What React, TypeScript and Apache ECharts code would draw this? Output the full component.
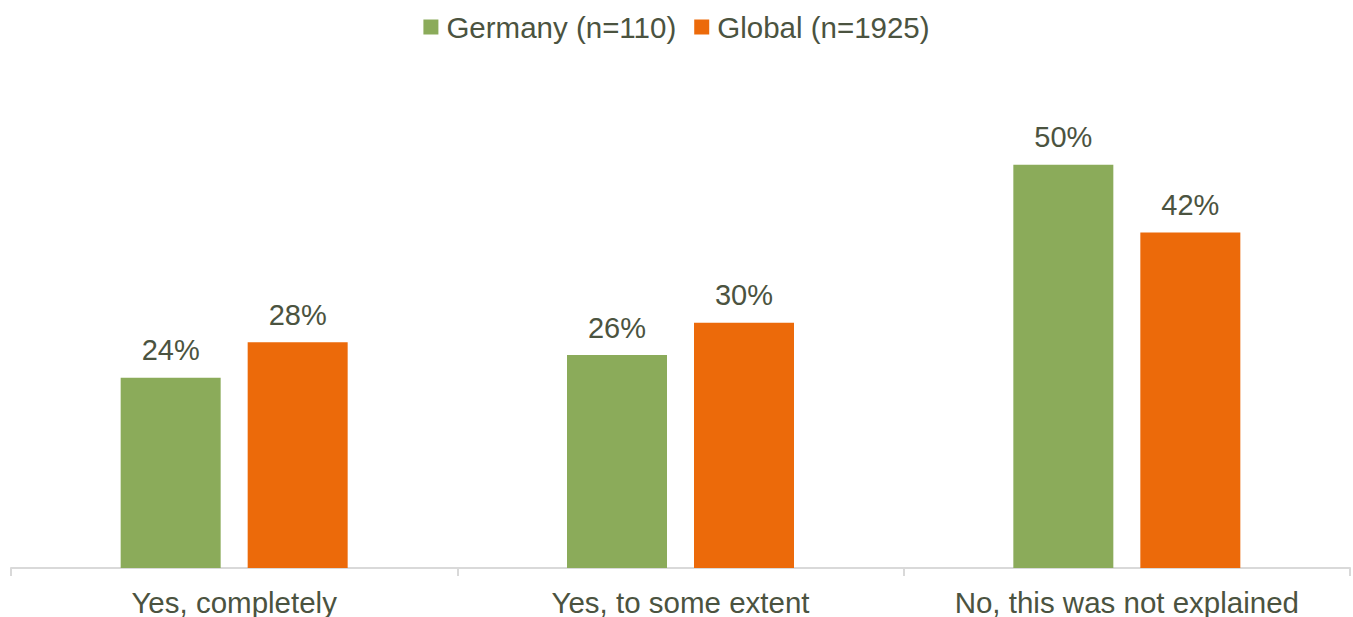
import React, { useEffect, useRef } from "react";
import * as echarts from "echarts";

const categories = ["Yes, completely", "Yes, to some extent", "No, this was not explained"];
const germany = [23.6, 26.4, 50.0];
const global = [28.0, 30.4, 41.6];
const seriesNames = ["Germany (n=110)", "Global (n=1925)"];

const TEXT = "#4b5340";
const FONT = "'Liberation Sans', Arial, sans-serif";

export default function App() {
  const ref = useRef<HTMLDivElement>(null);
  useEffect(() => {
    const chart = echarts.init(ref.current!, undefined, { renderer: "svg" });
    const label = {
      show: true,
      position: "top",
      distance: 13,
      color: TEXT,
      fontSize: 29,
      fontFamily: FONT,
      formatter: (p: any) => Math.round(p.value) + "%",
    };
    chart.setOption({
      animation: false,
      legend: {
        top: 7,
        left: "center",
        itemWidth: 15,
        itemHeight: 15,
        itemGap: 18,
        icon: "rect",
        textStyle: { color: TEXT, fontSize: 29.5, fontFamily: FONT, padding: [0, 0, 0, 3] },
        data: seriesNames,
      },
      grid: { left: 11, right: 3, top: 84, bottom: 46, containLabel: false },
      xAxis: {
        type: "category",
        data: categories,
        axisLine: { lineStyle: { color: "#d9d9d9", width: 2 } },
        axisTick: { show: true, length: 8, lineStyle: { color: "#d9d9d9", width: 2 } },
        axisLabel: {
          color: TEXT,
          fontSize: 29.5,
          fontFamily: FONT,
          margin: 19,
          interval: 0,
          hideOverlap: false,
        },
      },
      yAxis: {
        type: "value",
        min: 0,
        max: 60,
        show: false,
        splitLine: { show: false },
      },
      series: [
        {
          name: seriesNames[0],
          type: "bar",
          data: germany,
          barWidth: 100,
          barGap: "27%",
          itemStyle: { color: "#8bab5a" },
          label,
        },
        {
          name: seriesNames[1],
          type: "bar",
          data: global,
          barWidth: 100,
          barGap: "27%",
          itemStyle: { color: "#ec6a0a" },
          label,
        },
      ],
    });
    return () => chart.dispose();
  }, []);
  return (
    <div
      ref={ref}
      style={{ position: "absolute", left: 0, top: 0, width: 1353, height: 617, background: "#fff" }}
    />
  );
}
